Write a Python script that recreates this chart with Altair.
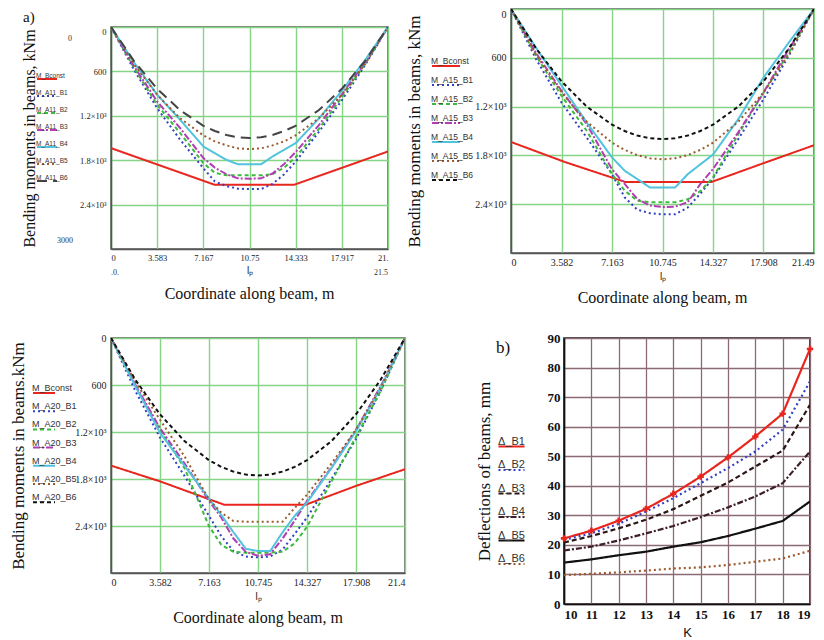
import altair as alt
import pandas as pd

SERIF = "Liberation Serif"
SANS = "Liberation Sans"

# ---------------- beam coordinates (m) ----------------
X11 = [0, 1.79, 3.58, 5.37, 7.17, 8.06, 8.96, 9.85, 10.75, 11.65, 12.54, 13.44, 14.33, 16.12, 17.92, 19.71, 21.5]
X15 = [0, 1.79, 3.58, 5.37, 7.16, 8.06, 8.95, 9.85, 10.745, 11.64, 12.54, 13.43, 14.33, 16.12, 17.91, 19.70, 21.49]

# ---------------- bending moments, panel A11 (kNm) ----------------
A11_B1 = [0, 580, 1096, 1524, 1908, 2088, 2150, 2185, 2190, 2190, 2120, 1990, 1820, 1420, 990, 520, 0]
A11_B2 = [0, 555, 1051, 1434, 1840, 1970, 2005, 2005, 2005, 2005, 1990, 1900, 1760, 1380, 950, 500, 0]
A11_B3 = [0, 532, 1006, 1367, 1772, 1900, 1990, 2045, 2050, 2045, 1980, 1850, 1690, 1330, 910, 480, 0]
A11_B4 = [0, 480, 915, 1254, 1615, 1705, 1795, 1855, 1855, 1855, 1750, 1660, 1570, 1240, 860, 450, 0]
A11_B5 = [0, 505, 915, 1235, 1465, 1545, 1600, 1640, 1650, 1640, 1600, 1545, 1465, 1235, 915, 505, 0]
A11_B6 = [0, 460, 835, 1125, 1335, 1405, 1460, 1490, 1500, 1490, 1460, 1405, 1335, 1125, 835, 460, 0]
BC11_X = [0, 8.06, 14.2, 21.5]
BC11_M = [1637, 2133, 2133, 1682]

# ---------------- bending moments, panel A15 ----------------
A15_B1 = [0, 620, 1150, 1580, 2030, 2315, 2466, 2511, 2525, 2525, 2440, 2270, 2080, 1600, 1110, 575, 0]
A15_B2 = [0, 580, 1067, 1497, 2030, 2233, 2356, 2376, 2376, 2376, 2340, 2240, 2070, 1540, 1030, 540, 0]
A15_B3 = [0, 545, 1006, 1415, 1970, 2151, 2335, 2417, 2435, 2430, 2376, 2151, 1967, 1517, 1027, 495, 0]
A15_B4 = [0, 480, 940, 1395, 1824, 1988, 2090, 2195, 2195, 2195, 2030, 1910, 1790, 1354, 842, 413, 0]
A15_B5 = [0, 564, 1026, 1386, 1643, 1732, 1797, 1835, 1848, 1835, 1797, 1732, 1643, 1386, 1026, 564, 0]
A15_B6 = [0, 489, 889, 1200, 1422, 1500, 1556, 1589, 1600, 1589, 1556, 1500, 1422, 1200, 889, 489, 0]
BC15_X = [0, 3.8, 8.13, 14.2, 18.0, 21.49]
BC15_M = [1635, 1880, 2128, 2128, 1890, 1675]

# ---------------- bending moments, panel A20 ----------------
A20_B1 = [0, 680, 1270, 1760, 2270, 2530, 2720, 2790, 2800, 2790, 2700, 2500, 2290, 1800, 1290, 680, 0]
A20_B2 = [0, 610, 1170, 1660, 2400, 2640, 2730, 2740, 2740, 2740, 2730, 2620, 2410, 1830, 1260, 680, 0]
A20_B3 = [0, 600, 1150, 1600, 2080, 2290, 2560, 2730, 2780, 2760, 2560, 2330, 2080, 1650, 1170, 620, 0]
A20_B4 = [0, 620, 1210, 1630, 2050, 2260, 2480, 2690, 2720, 2720, 2480, 2270, 2100, 1660, 1190, 640, 0]
A20_B5 = [0, 560, 1044, 1510, 2060, 2230, 2336, 2345, 2345, 2345, 2345, 2170, 2000, 1600, 1170, 640, 0]
A20_B6 = [0, 536, 974, 1316, 1560, 1645, 1706, 1743, 1755, 1743, 1706, 1645, 1560, 1316, 974, 536, 0]
BC20_X = [0, 3.58, 8.3, 14.2, 17.93, 21.49]
BC20_M = [1629, 1830, 2130, 2130, 1887, 1675]

# ---------------- deflections, panel b (mm) ----------------
K = [10, 11, 12, 13, 14, 15, 16, 17, 18, 19]
D_B1 = [22.2, 24.8, 28.2, 32.2, 37.3, 43.1, 49.6, 56.7, 64.4, 86.3]
D_B2 = [21.7, 23.9, 27.1, 31.3, 35.8, 40.9, 46.0, 51.6, 59.0, 75.3]
D_B3 = [20.8, 23.0, 25.6, 28.5, 32.1, 36.6, 41.1, 46.5, 51.9, 67.4]
D_B4 = [18.1, 19.4, 21.5, 23.9, 26.4, 29.4, 32.7, 36.4, 40.9, 51.6]
D_B5 = [14.0, 15.1, 16.5, 17.7, 19.4, 20.9, 23.0, 25.5, 28.1, 34.7]
D_B6 = [9.8, 10.2, 10.7, 11.3, 12.0, 12.4, 13.2, 14.3, 15.4, 18.0]

# ---------------- ticks / labels ----------------
Y_TICKS = [0, 600, 1200, 1800, 2400]
Y_LABELS = ["0", "600", "1.2×10³", "1.8×10³", "2.4×10³"]
XT11 = [0, 3.583, 7.167, 10.75, 14.333, 17.917, 21.5]
XL11 = ["0", "3.583", "7.167", "10.75", "14.333", "17.917", "21."]
XT15 = [0, 3.582, 7.163, 10.745, 14.327, 17.908, 21.49]
XL15 = ["0", "3.582", "7.163", "10.745", "14.327", "17.908", "21.49"]
XL20 = ["0", "3.582", "7.163", "10.745", "14.327", "17.908", "21.4"]
B_YT = [0, 10, 20, 30, 40, 50, 60, 70, 80, 90]

RED, BLUE, GREEN, MAG, CYAN, BROWN = "#e8261e", "#3340c4", "#3dba3d", "#b23db2", "#52c3dc", "#9c5a2c"
GRID_G = "#86d486"


def lab_expr(vals, labs):
    e = "''"
    for v, l in reversed(list(zip(vals, labs))):
        e = f"abs(datum.value - {v}) < 0.0001 ? '{l}' : ({e})"
    return e


def make_legend(legx, legy, symlen, legfont, rowpad):
    return alt.Legend(title=None, orient="none", legendX=legx, legendY=legy,
                      symbolType="stroke", symbolSize=symlen * symlen,
                      labelFont=SANS, labelFontSize=legfont, labelColor="#333",
                      labelBaseline="bottom", labelAlign="left",
                      labelOffset={"expr": str(-(symlen + 2))},
                      rowPadding=rowpad, labelLimit=200)


def moment_encodings(L, xt, xl, ytitle, ytp, lab_size, flush, tfont):
    xenc = alt.X("x:Q", scale=alt.Scale(domain=[0, L], nice=False, zero=False),
                 axis=alt.Axis(values=xt, labelExpr=lab_expr(xt, xl), title="lₚ",
                               grid=True, gridColor=GRID_G, gridWidth=1.4, ticks=False,
                               domainColor="#555", domainWidth=1.5,
                               labelFont=SERIF, labelFontSize=lab_size, labelColor="#222",
                               labelPadding=4, titleFont=SANS, titleFontSize=10,
                               titleFontWeight="normal", titleColor="#222", titlePadding=4))
    yenc = alt.Y("M:Q", scale=alt.Scale(domain=[0, 3000], reverse=True, nice=False, zero=False),
                 axis=alt.Axis(values=Y_TICKS, labelExpr=lab_expr(Y_TICKS, Y_LABELS), title=ytitle,
                               grid=True, gridColor=GRID_G, gridWidth=1.4, ticks=False,
                               domainColor="#555", domainWidth=1.5, labelFlush=flush,
                               labelFont=SERIF, labelFontSize=lab_size, labelColor="#222",
                               labelPadding=5, titleFont=SERIF, titleFontSize=tfont,
                               titleFontWeight="normal", titleColor="#111", titlePadding=ytp))
    return xenc, yenc


def moment_lines(tag, X, curves, bx, bm, xenc, yenc, leg, b6):
    names = ["M_Bconst"] + [f"M_{tag}_B{i}" for i in range(1, 7)]
    rows = [dict(x=x, M=m, s=names[0]) for x, m in zip(bx, bm)]
    for name, vals in zip(names[1:], curves):
        rows += [dict(x=x, M=m, s=name) for x, m in zip(X, vals)]
    df = pd.DataFrame(rows)
    colors = [RED, BLUE, GREEN, MAG, CYAN, BROWN, b6[0]]
    dashes = [[1, 0], [2, 3], [4, 3], [7, 2, 2, 2], [1, 0], [2, 3], b6[1]]
    widths = [2, 2, 2.5, 2, 2.6, 1.6, b6[2]]
    return alt.Chart(df).mark_line(clip=True).encode(
        x=xenc, y=yenc,
        color=alt.Color("s:N", scale=alt.Scale(domain=names, range=colors), legend=leg),
        strokeDash=alt.StrokeDash("s:N", scale=alt.Scale(domain=names, range=dashes), legend=leg),
        strokeWidth=alt.StrokeWidth("s:N", scale=alt.Scale(domain=names, range=widths), legend=leg),
    )


TITLE_X = dict(orient="bottom", font=SERIF, fontSize=16, fontWeight="normal",
               color="#111", anchor="middle", offset=9)
IND = dict(color="independent", strokeDash="independent", strokeWidth="independent")

# ---------------- panel A11 ----------------
x11, y11 = moment_encodings(21.5, XT11, XL11, "Bending moments in beams, kNm", 42, 8.5, True, 16)
a11_lines = moment_lines("A11", X11, [A11_B1, A11_B2, A11_B3, A11_B4, A11_B5, A11_B6],
                         BC11_X, BC11_M, x11, y11, make_legend(-75, 41, 20, 6.5, 2),
                         ("#444", [10, 6], 1.3))
lim0 = alt.Chart(pd.DataFrame({"M": [0], "t": ["0"]})).mark_text(
    font=SERIF, fontSize=8, color="#333", baseline="top", dy=8).encode(
    x=alt.value(-41), y=y11, text="t:N")
lim1 = alt.Chart(pd.DataFrame({"M": [3000], "t": ["3000"]})).mark_text(
    font=SERIF, fontSize=8, color="#333", dy=-8).encode(
    x=alt.value(-46), y=y11, text="t:N")
xlim0 = alt.Chart(pd.DataFrame({"x": [0], "t": [".0."]})).mark_text(
    font=SERIF, fontSize=8, color="#333", align="left").encode(
    x=x11, y=alt.value(246), text="t:N")
xlim1 = alt.Chart(pd.DataFrame({"x": [21.5], "t": ["21.5"]})).mark_text(
    font=SERIF, fontSize=8, color="#333", align="right").encode(
    x=x11, y=alt.value(246), text="t:N")
a11 = alt.layer(a11_lines, lim0, lim1, xlim0, xlim1).properties(
    width=277, height=222,
    title=alt.TitleParams("Coordinate along beam, m", **TITLE_X),
    view=alt.ViewBackground(stroke="#555", strokeWidth=1.5))
spacer = alt.Chart(pd.DataFrame({"t": ["a)"]})).mark_text(
    font=SERIF, fontSize=15, align="left", baseline="middle", color="#111").encode(
    x=alt.value(-88), y=alt.value(8), text="t:N").properties(
    width=277, height=13, view=alt.ViewBackground(stroke="transparent"))
a11cell = alt.vconcat(spacer, a11, spacing=0).resolve_scale(**IND)

# ---------------- panel A15 ----------------
x15, y15 = moment_encodings(21.49, XT15, XL15, "Bending moments in beams, kNm", 51, 10, True, 17)
a15 = moment_lines("A15", X15, [A15_B1, A15_B2, A15_B3, A15_B4, A15_B5, A15_B6],
                   BC15_X, BC15_M, x15, y15, make_legend(-80, 42, 28, 8.5, 0),
                   ("#111111", [4, 3], 2.2)).properties(
    width=303, height=244,
    title=alt.TitleParams("Coordinate along beam, m", **TITLE_X),
    view=alt.ViewBackground(stroke="#555", strokeWidth=1.5))

# ---------------- panel A20 ----------------
x20, y20 = moment_encodings(21.49, XT15, XL20, "Bending moments in beams.kNm", 47, 10, False, 17)
a20 = moment_lines("A20", X15, [A20_B1, A20_B2, A20_B3, A20_B4, A20_B5, A20_B6],
                   BC20_X, BC20_M, x20, y20, make_legend(-79, 43, 22, 9, 2.2),
                   ("#111111", [4, 3], 2.2)).properties(
    width=294, height=235,
    title=alt.TitleParams("Coordinate along beam, m", **TITLE_X),
    view=alt.ViewBackground(stroke="#555", strokeWidth=1.5))

# ---------------- panel b ----------------
B_NAMES = ["Δ_B1", "Δ_B2", "Δ_B3", "Δ_B4", "Δ_B5", "Δ_B6"]
B_COLORS = [RED, BLUE, "#2b1616", "#3d1f2c", "#111111", BROWN]
B_DASH = [[1, 0], [2, 3], [5, 3], [6, 2, 2, 2], [1, 0], [2, 3]]
B_WIDTH = [2.2, 2.2, 2.2, 1.6, 2.2, 1.8]
rows = []
for name, vals in zip(B_NAMES, [D_B1, D_B2, D_B3, D_B4, D_B5, D_B6]):
    rows += [dict(K=k, D=d, s=name) for k, d in zip(K, vals)]
dfb = pd.DataFrame(rows)
GRID_B = "#8c6a74"
legb = make_legend(-67, 94, 26, 11, 4.5)
b_x = alt.X("K:Q", scale=alt.Scale(domain=[10, 19], nice=False, zero=False),
            axis=alt.Axis(values=K, title="K", grid=True, gridColor=GRID_B, gridWidth=1.3,
                          ticks=False, domainColor="#111", domainWidth=1.6,
                          labelFont=SERIF, labelFontSize=13, labelFontWeight="bold",
                          labelColor="#111", labelPadding=4, titleFont=SANS, titleFontSize=13,
                          titleFontWeight="normal", titleColor="#111", titlePadding=5))
b_y = alt.Y("D:Q", scale=alt.Scale(domain=[0, 90], nice=False, zero=False),
            axis=alt.Axis(values=B_YT, title="Deflections of beams, mm", grid=True,
                          gridColor=GRID_B, gridWidth=1.3, ticks=False,
                          domainColor="#111", domainWidth=1.6,
                          labelFont=SERIF, labelFontSize=13, labelFontWeight="bold",
                          labelColor="#111", labelPadding=4, titleFont=SERIF, titleFontSize=17,
                          titleFontWeight="normal", titleColor="#111", titlePadding=54))
b_lines = alt.Chart(dfb).mark_line(clip=True).encode(
    x=b_x, y=b_y,
    color=alt.Color("s:N", scale=alt.Scale(domain=B_NAMES, range=B_COLORS), legend=legb),
    strokeDash=alt.StrokeDash("s:N", scale=alt.Scale(domain=B_NAMES, range=B_DASH), legend=legb),
    strokeWidth=alt.StrokeWidth("s:N", scale=alt.Scale(domain=B_NAMES, range=B_WIDTH), legend=legb),
)
b_marks = alt.Chart(pd.DataFrame({"K": K, "D": D_B1})).mark_point(
    shape="cross", filled=True, size=40, color=RED, opacity=1).encode(x=b_x, y=b_y)
tag_b = alt.Chart(pd.DataFrame({"t": ["b)"]})).mark_text(
    font=SERIF, fontSize=17, align="left", baseline="middle", color="#111").encode(
    x=alt.value(-68), y=alt.value(10), text="t:N")
bpan = alt.layer(b_lines, b_marks, tag_b).properties(
    width=246, height=266,
    view=alt.ViewBackground(stroke="#111", strokeWidth=1.6))

row1 = alt.hconcat(a11cell, a15, spacing=16).resolve_scale(**IND)
row2 = alt.hconcat(a20, bpan, spacing=68).resolve_scale(**IND)
chart = alt.vconcat(row1, row2, spacing=24).resolve_scale(**IND).properties(
    padding={"left": 1, "top": 0, "right": 0, "bottom": 0},
    background="white")

chart.save("out.html", embed_options={"renderer": "svg", "actions": False})
